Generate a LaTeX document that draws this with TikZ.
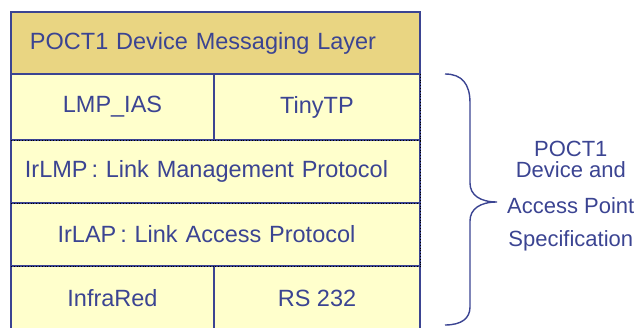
\documentclass[tikz,border=0pt]{standalone}
\usepackage{fontspec}
\setmainfont{Liberation Sans}
\usetikzlibrary{positioning}
\definecolor{ink}{RGB}{59, 68, 146}
\definecolor{gold}{RGB}{233, 213, 130}
\definecolor{cream}{RGB}{255, 255, 204}
\tikzstyle{toplayer} = [rectangle, draw=ink, line width=1.2pt, fill=gold, text=ink, font=\fontsize{23.5}{28}\selectfont, minimum width=409pt, minimum height=62pt, text width=371pt, inner xsep=19pt, align=left, outer sep=0pt]
\tikzstyle{half} = [rectangle, draw=ink, line width=1.2pt, fill=cream, text=ink, font=\fontsize{23.5}{28}\selectfont, inner sep=0pt, outer sep=0pt]
\tikzstyle{full} = [rectangle, draw=ink, line width=1.2pt, fill=cream, text=ink, font=\fontsize{23.5}{28}\selectfont, minimum width=409pt, text width=391pt, inner xsep=9pt, align=center, outer sep=0pt]
\tikzstyle{sep} = [draw=black, dotted, line width=0.8pt]
\tikzstyle{brace} = [draw=ink, line width=1.4pt]
\tikzstyle{spectext} = [text=ink, font=\fontsize{22}{26.4}\selectfont, align=center, inner sep=0pt]

\begin{document}
\begin{tikzpicture}
\useasboundingbox (0,0) rectangle (643pt,327pt);

% layers =============================

% top layer
\node[toplayer, anchor=north west] (msg) at (11pt,315pt) {POCT1 Device Messaging Layer};

% transport
\node[half, minimum width=203pt, minimum height=66pt, below right=0pt and 0pt of msg.south west] (lmpias) {LMP\_IAS};
\node[half, minimum width=206pt, minimum height=66pt, right=0pt of lmpias] (tinytp) {TinyTP};

% link
\node[full, minimum height=63pt, below right=0pt and 0pt of lmpias.south west] (irlmp) {IrLMP\,: Link Management Protocol\hspace*{18pt}};
\node[full, minimum height=63pt, below=0pt of irlmp] (irlap) {IrLAP\,: Link Access Protocol\hspace*{18pt}};

% physical
\node[half, minimum width=203pt, minimum height=64pt, below right=0pt and 0pt of irlap.south west] (infrared) {InfraRed};
\node[half, minimum width=206pt, minimum height=64pt, right=0pt of infrared] (rs232) {RS 232};

% dotted seams
\path[sep] (irlmp.north west) -- (irlmp.north east);
\path[sep] (irlap.north west) -- (irlap.north east);
\path[sep] (infrared.north west) -- (rs232.north east);
\path[sep] (tinytp.north east) -- (irlap.south east);

% brace and spec ======================
\coordinate (btop) at (445pt,253pt);
\coordinate (tip) at (497pt,125pt);
\coordinate (bbot) at (445pt,2pt);
\path[brace] (btop) .. controls (462pt,253pt) and (470pt,243pt) .. (470pt,224pt)
  -- (470pt,144pt) .. controls (470pt,132pt) and (480pt,125pt) .. (tip)
  .. controls (480pt,125pt) and (470pt,118pt) .. (470pt,106pt)
  -- (470pt,20pt) .. controls (470pt,9pt) and (462pt,2pt) .. (bbot);

\node[spectext, right=10pt of tip, yshift=6pt] (spec) {POCT1\\[-5pt]Device and\\[9pt]Access Point\\[7pt]Specification};

\end{tikzpicture}
\end{document}
